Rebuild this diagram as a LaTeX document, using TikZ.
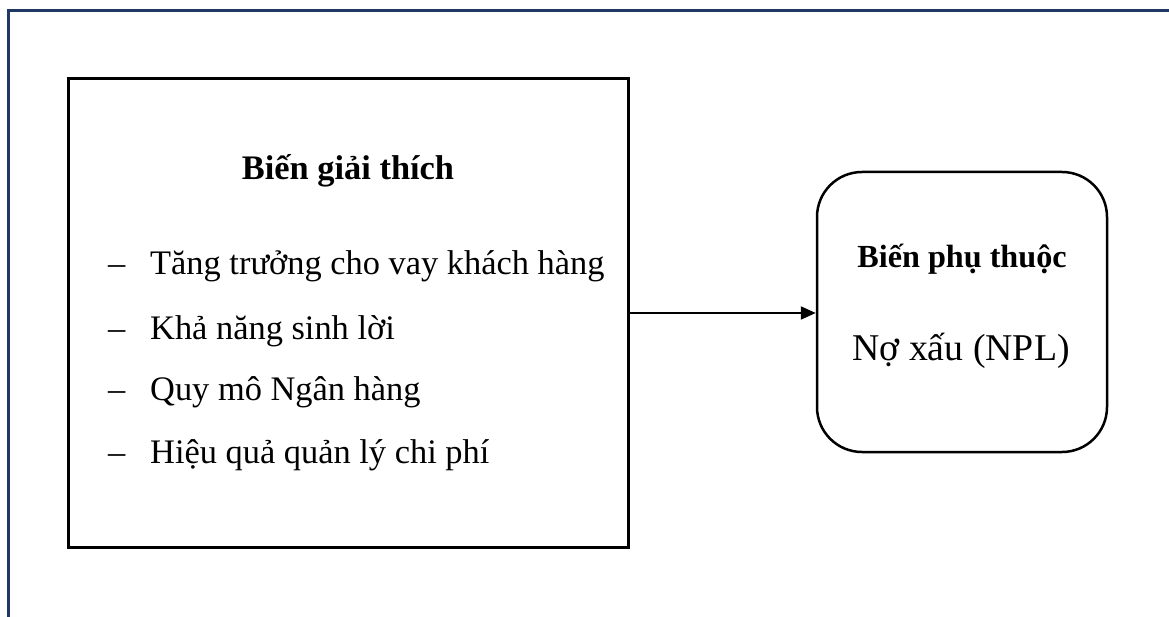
\documentclass[tikz,border=0pt]{standalone}
\usepackage{fontspec}
\setmainfont{Liberation Serif}
\usetikzlibrary{arrows.meta}
\definecolor{navy}{HTML}{1F3864}
\tikzset{
  frameline/.style={draw=navy, line width=3pt},
  leftbox/.style={draw=black, line width=3pt, minimum width=560pt, minimum height=469pt, inner sep=0pt},
  rightbox/.style={draw=black, line width=2.5pt, rounded corners=45pt, minimum width=290pt, minimum height=280pt, inner sep=0pt},
  titletext/.style={anchor=base, font=\fontsize{34.4}{40}\selectfont\bfseries, inner sep=0pt},
  itemtext/.style={anchor=base west, font=\fontsize{34.4}{40}\selectfont, inner sep=0pt},
  bigtext/.style={anchor=base, font=\fontsize{37.8}{44}\selectfont, inner sep=0pt},
  arrowline/.style={draw=black, line width=2.2pt, -{Triangle[length=15pt,width=13pt]}}
}
\begin{document}
\begin{tikzpicture}[x=1pt,y=-1pt]
\useasboundingbox (0,0) rectangle (1169,617);
\fill[white] (0,0) rectangle (1169,617);
\draw[frameline] (8,617) -- (8,11) -- (1169,11);
\node[leftbox] (L) at (348,313) {};
\node[rightbox] (R) at (962,312) {};
\node[titletext] (t1) at (348,180) {Biến giải thích};
\node[itemtext] (d1) at (108,275) {–};
\node[itemtext] (i1) at (150,275) {Tăng trưởng cho vay khách hàng};
\node[itemtext] (d2) at (108,339) {–};
\node[itemtext] (i2) at (150,339) {Khả năng sinh lời};
\node[itemtext] (d3) at (108,400) {–};
\node[itemtext] (i3) at (150,400) {Quy mô Ngân hàng};
\node[itemtext] (d4) at (108,463) {–};
\node[itemtext] (i4) at (150,463) {Hiệu quả quản lý chi phí};
\node[titletext, font=\fontsize{32.2}{38}\selectfont\bfseries] (t2) at (962,268) {Biến phụ thuộc};
\node[bigtext] (t3) at (961,360) {Nợ xấu (NPL)};
\draw[arrowline] (L.east) -- (L.east -| R.west);
\end{tikzpicture}
\end{document}
